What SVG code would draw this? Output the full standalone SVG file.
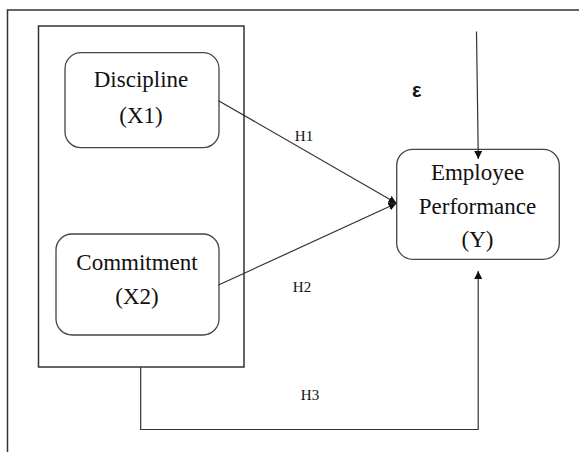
<svg xmlns="http://www.w3.org/2000/svg" width="579" height="452" viewBox="0 0 579 452">
<style>
.frame{fill:none;stroke:#333;stroke-width:1.5}
.box{fill:#fff;stroke:#444;stroke-width:1.3}
.lbl{font-family:"Liberation Serif","Times New Roman",serif;font-size:23px;fill:#111;text-anchor:middle}
.h{font-family:"Liberation Serif","Times New Roman",serif;font-size:15px;fill:#111;text-anchor:middle}
.eps{font-family:"Liberation Sans",Arial,sans-serif;font-size:20px;font-weight:bold;fill:#111;text-anchor:middle}
.conn{fill:none;stroke:#333;stroke-width:1.2}
</style>
<defs>
<marker id="arr" viewBox="0 0 10 10" refX="10" refY="5" markerWidth="8" markerHeight="8" markerUnits="userSpaceOnUse" orient="auto">
<path d="M0,0 L10,5 L0,10 z" fill="#111"/>
</marker>
</defs>
<rect x="0" y="0" width="579" height="452" fill="#fff"/>
<rect class="frame" x="7.5" y="10" width="600" height="500"/>
<rect id="group-box" class="frame" x="38.5" y="26" width="205.5" height="341"/>
<g id="discipline">
<rect class="box" x="65" y="52.7" width="154" height="95" rx="16"/>
<text class="lbl" x="141" y="87">Discipline</text>
<text class="lbl" x="141" y="123">(X1)</text>
</g>
<g id="commitment">
<rect class="box" x="56" y="234" width="163" height="101" rx="16"/>
<text class="lbl" x="137" y="270">Commitment</text>
<text class="lbl" x="137" y="304">(X2)</text>
</g>
<g id="employee-performance">
<rect class="box" x="396.7" y="149.3" width="162.6" height="110" rx="16"/>
<text class="lbl" x="477.5" y="180">Employee</text>
<text class="lbl" x="477.5" y="214">Performance</text>
<text class="lbl" x="477.5" y="247">(Y)</text>
</g>
<g id="connectors">
<line class="conn" x1="218.5" y1="100.7" x2="396.5" y2="203.3" marker-end="url(#arr)"/>
<line class="conn" x1="218.5" y1="285" x2="396.5" y2="203.3" marker-end="url(#arr)"/>
<line class="conn" x1="476.5" y1="31.5" x2="478.3" y2="159" marker-end="url(#arr)"/>
<polyline class="conn" points="140.7,367 140.7,429.5 478.2,429.5 478.2,271" marker-end="url(#arr)"/>
<text class="h" x="304" y="140.5">H1</text>
<text class="h" x="302" y="292">H2</text>
<text class="h" x="310" y="400">H3</text>
<text class="eps" x="416.7" y="96.5">ε</text>
</g>
</svg>
